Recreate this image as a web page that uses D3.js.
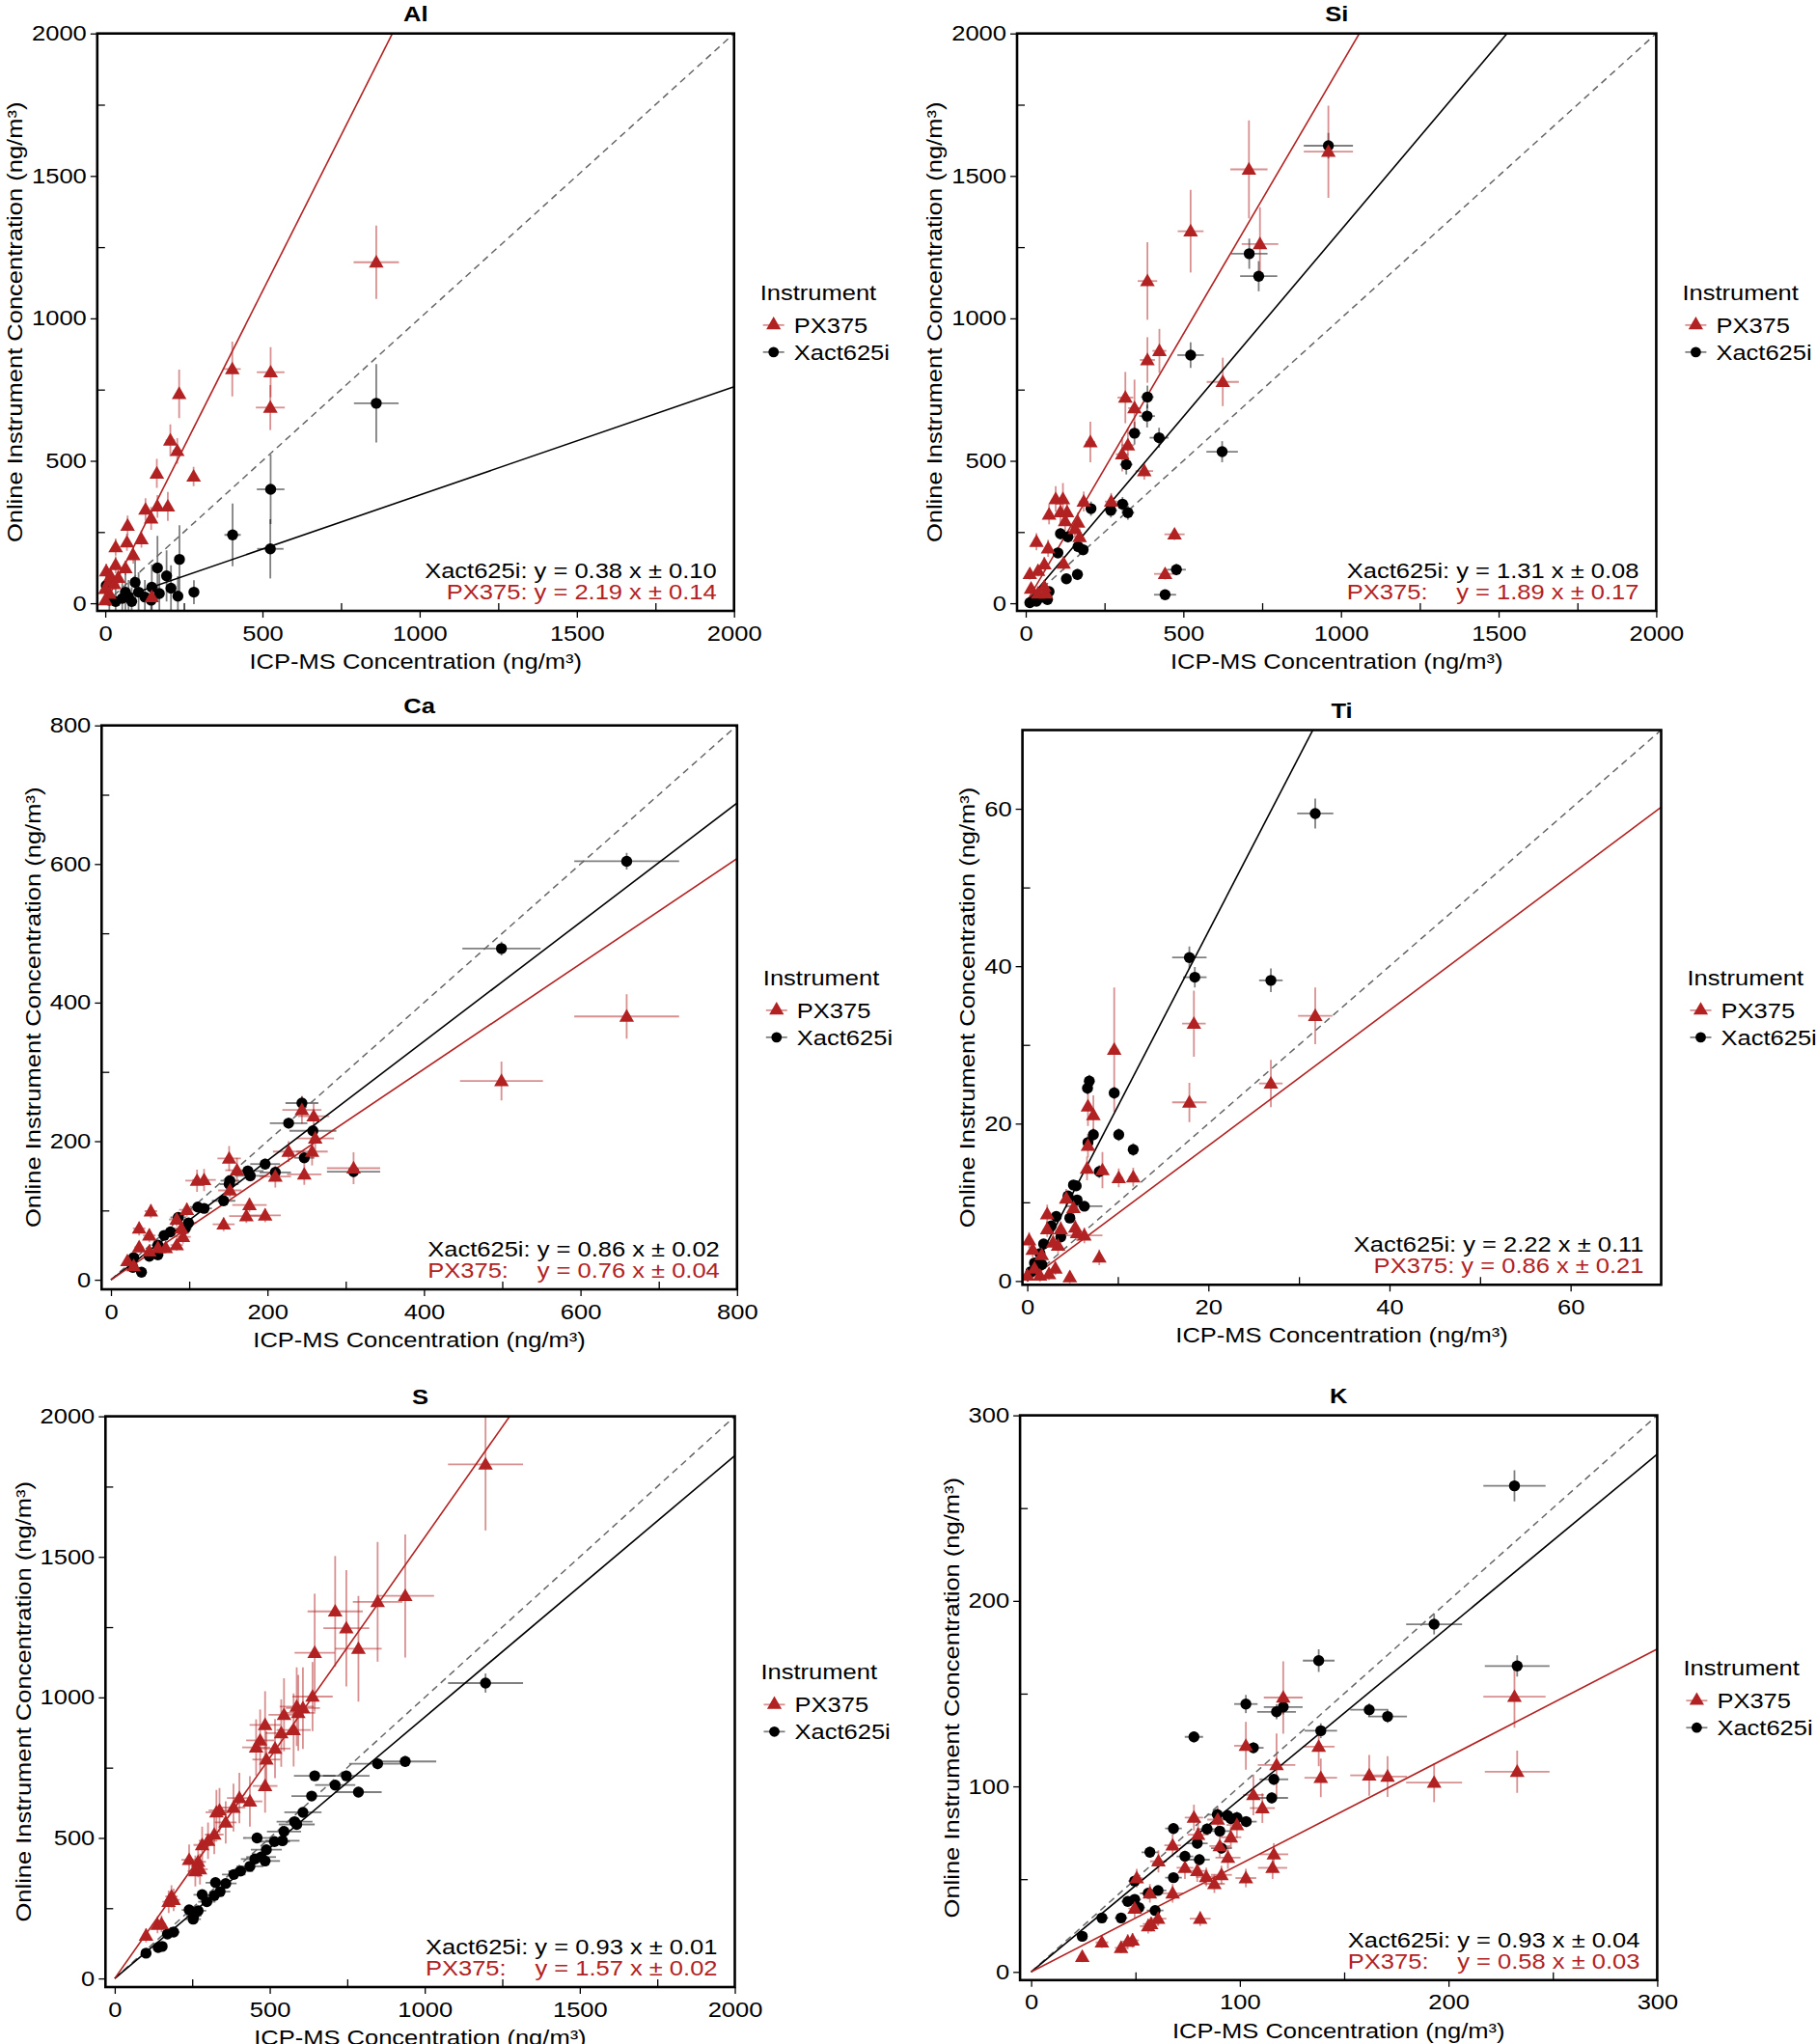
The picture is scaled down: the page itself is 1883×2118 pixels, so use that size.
<!DOCTYPE html>
<html>
<head>
<meta charset="utf-8">
<script src="https://cdn.jsdelivr.net/npm/d3@7"></script>
<style>
  body { margin: 0; background: #fff; }
  svg { display: block; font-family: "Liberation Sans", Arial, sans-serif; }
</style>
</head>
<body>
<svg id="chart" width="1883" height="2118"></svg>
<script>
'use strict';
// points as [ICP-MS, instrument, x error, y error]

const alPX = [[404,822,27,96],[526,811,44,88],[525,687,46,79],[235,735,12,85],[207,572,15,56],[229,535,15,45],
  [164,456,10,51],[281,445,10,34],[128,329,10,40],[166,340,10,40],[199,340,10,51],[146,298,10,40],[71,273,8,35],
  [115,225,8,30],[33,197,6,30],[69,214,8,30],[89,169,8,30],[33,135,6,30],[3,113,5,25],[64,124,6,25],[13,79,5,20],
  [0,51,4,20],[13,34,4,15],[148,22,8,20],[0,11,4,15],[28,68,5,20],[17,96,5,25],[41,90,6,25],[862,1197,72,129]];
const alXact = [[862,702,71,138],[526,400,44,122],[525,191,42,104],[405,240,26,110],[236,154,12,120],[166,124,12,113],
  [195,96,12,90],[209,53,12,80],[282,39,12,42],[231,25,10,70],[172,34,10,70],[146,11,10,60],[148,56,10,80],[95,73,8,80],
  [106,39,8,70],[74,22,8,60],[84,6,8,50],[54,17,6,60],[33,6,6,50],[3,62,5,60],[13,11,5,40],[126,22,8,60],[64,39,6,70]];

const siPX = [[523,1306,41,145],[743,1261,58,129],[708,1523,59,172],[960,1585,78,162],[386,1131,31,136],[424,886,22,77],
  [386,854,24,80],[625,777,51,85],[316,722,25,90],[345,685,20,100],[205,566,15,71],[324,555,20,60],[306,523,20,60],
  [376,464,28,30],[271,357,20,30],[184,357,15,35],[118,366,10,56],[95,366,10,45],[74,312,10,35],[110,320,10,40],
  [131,320,10,40],[125,289,10,35],[166,284,12,35],[156,261,12,30],[171,233,12,30],[34,216,8,30],[71,193,8,30],
  [472,242,32,20],[442,103,35,20],[59,137,8,25],[120,140,10,25],[13,103,6,20],[39,114,6,20],[17,52,5,15],
  [59,58,6,15],[39,35,6,15],[64,35,6,15]];
const siXact = [[960,1606,78,45],[709,1227,58,53],[739,1148,59,53],[523,871,42,45],[386,724,20,40],[385,657,25,40],
  [345,597,20,40],[423,581,30,35],[623,532,50,37],[319,487,20,35],[207,332,15,25],[270,326,20,25],[307,348,20,25],
  [324,318,20,25],[110,244,10,20],[134,233,10,20],[102,177,10,20],[182,188,12,20],[166,199,12,20],[164,101,12,20],
  [129,86,10,15],[478,118,30,20],[442,30,35,10],[74,41,8,15],[54,21,8,10],[34,7,6,10],[13,2,6,10],[69,13,8,10]];

const caPX = [[244,245,25,20],[259,236,20,18],[261,204,24,18],[257,185,20,20],[227,185,20,15],[247,152,22,15],
  [210,149,20,16],[310,161,34,23],[151,175,15,18],[161,158,15,18],[110,143,15,16],[119,144,15,16],[177,108,22,10],
  [173,92,22,10],[197,93,20,10],[144,80,14,10],[152,129,15,10],[51,99,8,10],[97,101,10,10],[84,87,10,10],
  [36,74,8,10],[49,64,8,10],[90,74,10,10],[92,62,10,10],[36,47,6,8],[70,46,8,8],[84,50,8,8],[21,27,5,6],
  [49,41,6,8],[29,20,5,6],[60,46,8,8],[499,287,53,28],[659,380,67,32]];
const caXact = [[244,255,21,10],[227,226,24,8],[258,215,30,8],[247,176,13,8],[197,167,19,8],[175,157,20,8],
  [178,150,20,8],[210,155,20,8],[152,143,12,8],[151,138,12,8],[144,114,15,6],[111,105,10,6],[119,103,10,6],
  [99,82,10,6],[86,90,10,6],[95,74,8,6],[68,64,8,5],[60,50,8,5],[60,36,6,5],[49,34,6,5],[29,32,6,5],[39,11,5,4],
  [28,18,5,4],[310,156,34,8],[76,69,8,5],[499,478,50,10],[659,604,67,12]];

const tiPX = [[31.8,33.7,1.9,3.6],[18.4,32.7,1.3,4.2],[9.6,29.4,0.5,7.9],[17.9,22.7,1.9,2.5],[26.9,25.1,1.3,3.0],
  [6.7,22.2,0.4,2.5],[7.3,21.1,0.4,2.5],[6.7,17.2,0.4,1.5],[6.6,14.3,0.4,1.5],[8.3,14.1,0.5,2.3],[10.1,13.1,0.5,1.2],
  [11.7,13.2,0.5,1.2],[4.3,10.5,0.4,1.2],[5.1,9.3,0.4,1.2],[2.2,8.5,0.3,1.2],[3.7,6.6,0.3,1],[5.3,6.8,0.3,1],
  [5.5,6.1,0.3,1],[6.3,5.8,2,1],[2.2,6.6,0.3,1],[2.85,4.9,0.3,1],[3.4,4.5,0.3,1],[0.2,5.2,0.2,1],[0.6,4,0.2,1],
  [1.6,3.3,0.2,1],[7.95,3,0.3,1],[3.1,1.6,0.3,0.8],[4.7,0.5,0.3,0.8],[2.4,0.9,0.3,0.8],[0.8,1.6,0.2,0.8],
  [0,0.7,0.2,0.8],[1.4,0.7,0.2,0.8]];
const tiXact = [[31.8,59.4,2,1.9],[17.9,41.1,1.9,1.4],[18.5,38.6,1.3,1.3],[26.9,38.2,1.3,1.5],[6.85,25.4,0.4,0.8],
  [6.65,24.5,0.4,0.8],[9.6,23.9,0.4,0.8],[7.3,18.6,0.4,0.8],[10.1,18.6,0.4,0.8],[11.7,16.7,0.4,0.8],[6.7,17.6,0.4,0.8],
  [7.95,13.9,0.5,0.8],[5.1,12.2,0.4,0.6],[5.4,12.1,0.4,0.6],[4.5,10.8,0.4,0.6],[5.5,10.3,0.4,0.6],[6.3,9.5,2,0.6],
  [3.2,8.2,0.3,0.6],[4.7,8,0.3,0.6],[2.65,7,0.3,0.5],[3.7,5.6,0.3,0.5],[1.8,4.7,0.3,0.5],[1.4,3.5,0.3,0.5],
  [0.8,2.3,0.2,0.5],[0.4,1.2,0.2,0.5],[1.6,2.1,0.2,0.5]];

const sPX = [[1196,1829,121,235],[937,1361,93,219],[848,1340,80,213],[711,1306,89,197],[747,1246,74,207],
  [786,1173,75,188],[645,1159,65,210],[638,1003,65,123],[587,967,55,140],[607,962,55,145],[592,945,55,135],
  [546,938,50,130],[485,902,50,120],[577,884,55,130],[537,873,50,120],[469,847,45,110],[456,822,45,100],
  [517,818,50,105],[489,779,45,100],[485,685,40,95],[436,630,40,90],[402,642,40,90],[383,608,38,85],[338,598,35,80],
  [328,591,35,80],[358,555,35,75],[321,512,30,70],[301,490,30,65],[282,475,28,65],[240,422,25,55],[269,415,25,55],
  [260,382,25,55],[275,389,25,55],[183,292,20,40],[174,273,20,40],[151,194,15,30],[138,191,15,30],[101,153,12,25],
  [190,280,20,40]];
const sXact = [[1196,1051,121,34],[937,772,100,20],[848,764,92,20],[747,721,75,18],[645,721,67,18],[711,688,65,18],
  [786,663,75,18],[635,649,65,17],[607,591,60,15],[587,548,58,15],[580,558,58,15],[546,523,55,14],[541,490,55,14],
  [515,487,50,14],[459,500,45,13],[489,458,50,13],[485,418,48,12],[472,432,48,12],[452,425,45,12],[436,399,43,12],
  [406,382,40,11],[384,370,38,11],[358,338,35,10],[325,341,32,10],[340,309,33,10],[321,295,30,9],[282,298,28,9],
  [297,273,28,9],[269,241,26,8],[240,244,24,8],[253,211,25,8],[255,223,25,8],[190,165,19,6],[170,158,17,6],
  [153,114,15,5],[140,110,14,5],[101,90,10,5]];

const kPX = [[231.6,148.3,14.9,16.6],[232.9,107.9,15.5,11.4],[193.1,102,13.4,10.5],[162,106,9.1,11],[170.8,105.3,9.3,11],
  [138.8,104.6,7.8,10.4],[137.8,121.4,7.6,10.5],[120.8,147.9,9.3,19.5],[102.9,121.9,5.6,12.9],[117.6,111.5,9,17],
  [106.5,95.4,5,11],[110.8,88.3,6,8],[78,83.2,4.4,7],[89.4,82.1,5,7],[98.6,79.2,5,7],[80,74,5,6],[95.7,72.6,5,6],
  [67.8,68.2,4,6],[90.4,67.8,5,6],[116.3,63.4,6.9,6],[94.3,61.6,6,6],[61,59.6,4,6],[73.7,56.1,4,6],[79.6,54.5,5,6],
  [115.7,56.1,7,6],[83.9,51.2,5,5],[91.2,52.3,5,5],[102.9,50.6,5,5],[50.6,50.6,3,5],[87.8,47.5,5,5],[67.8,42.4,5,5],
  [56.9,42.4,4,5],[49.6,34.2,3,5],[60.8,28.7,4,4],[56.1,24.7,4,4],[57.5,25.8,4,4],[81,28.7,5,4],[48.6,17,3,4],
  [46.3,16.3,3,4],[33.9,15.9,3,3],[43.1,13,3,3],[24.5,8.2,2,3]];
const kXact = [[231.6,262,14.9,8.4],[193.1,187.4,13.4,5.5],[232.9,164.9,15.5,5.7],[137.8,167.8,7.6,6.1],
  [102.9,144.4,5.6,4.9],[117.6,140.2,9.3,4],[120.8,142.8,9.3,4],[162,141.3,9.1,3.5],[170.8,137.7,9.3,3.5],
  [138.8,130,7.8,4],[78,126.7,4.4,3],[106.5,120.8,4.9,3],[116.3,103.8,6.9,3],[115.3,93.8,7.8,3],[89.2,84.8,5,3],
  [94.1,84.3,5,3],[95.7,82.6,5,3],[98.6,83.2,5,3],[103.1,81,5,3],[68.2,77.3,4,3],[84.3,77,5,3],[90.4,75.9,5,3],
  [79.6,69.3,5,3],[91.2,66.7,5,3],[56.9,64.5,4,3],[73.7,62.3,4,3],[80.6,60.5,5,3],[68.2,50.8,4,2.5],[49.6,49,3,2.5],
  [60.8,43.9,4,2.5],[56.1,42.4,4,2.5],[46.3,38,3,2.5],[49.6,39.1,3,2.5],[51.6,34.7,3,2.5],[59.4,33.1,4,2.5],
  [33.9,29.1,3,2],[43.1,29.1,3,2],[24.5,19.2,2,2]];

const elements = ['Al', 'Si', 'Ca', 'Ti', 'S', 'K'];
const axisMax = [2000, 2000, 800, 70, 2000, 300];
const majorTicks = [[0,500,1000,1500,2000],[0,500,1000,1500,2000],[0,200,400,600,800],[0,20,40,60],
  [0,500,1000,1500,2000],[0,100,200,300]];
const minorTicks = [[250,750,1250,1750],[250,750,1250,1750],[100,300,500,700],[10,30,50],
  [250,750,1250,1750],[50,150,250]];
const xactSlope = [0.38, 1.31, 0.86, 2.22, 0.93, 0.93];
const xactSE = ['0.10', '0.08', '0.02', '0.11', '0.01', '0.04'];
const pxSlope = [2.19, 1.89, 0.76, 0.86, 1.57, 0.58];
const pxSE = ['0.14', '0.17', '0.04', '0.21', '0.02', '0.03'];
const alignedEq = [false, true, true, false, true, true];
const xactData = [alXact, siXact, caXact, tiXact, sXact, kXact];
const pxData = [alPX, siPX, caPX, tiPX, sPX, kPX];

// panel frames in pixels: left, top, right, bottom, x pad, y pad
const frames = [
  [100.8, 34.7, 760.7, 633, 8.3, 7.9],
  [1054, 34.7, 1716.4, 633, 9, 7.9],
  [105.3, 751.7, 763.8, 1336, 9.7, 9.9],
  [1059.6, 756.5, 1721.5, 1331.3, 5, 3.9],
  [109.3, 1467.6, 761.5, 2059, 9.6, 8.9],
  [1057.1, 1466.6, 1717.4, 2051.8, 11.5, 8.5]
];

const RED = '#b22222';
const RED_ERR = 'rgba(178,34,34,0.5)';
const GREY_ERR = 'rgba(0,0,0,0.5)';
const FS = 22;     // font size
const SX = 1.16;   // the figure's lettering is wider than Liberation Sans

const svg = d3.select('#chart');
const triangle = d3.symbol().type(d3.symbolTriangle).size(100);

// text in a wrapper group so it can be widened
function label(parent, x, y, s, anchor, fill, rot) {
  const g = parent.append('g')
    .attr('transform', `translate(${x},${y})${rot ? ' rotate(-90)' : ''} scale(${SX},1)`);
  return g.append('text').attr('font-size', FS).attr('text-anchor', anchor || 'start')
    .attr('fill', fill || '#000').text(s);
}

function errorBars(g, pts, x, y, col) {
  const e = g.append('g').attr('stroke', col).attr('stroke-width', 1.8);
  e.selectAll('.h').data(pts).enter().append('line')
    .attr('x1', d => x(d[0] - d[2])).attr('x2', d => x(d[0] + d[2]))
    .attr('y1', d => y(d[1])).attr('y2', d => y(d[1]));
  e.selectAll('.v').data(pts).enter().append('line')
    .attr('x1', d => x(d[0])).attr('x2', d => x(d[0]))
    .attr('y1', d => y(d[1] - d[3])).attr('y2', d => y(d[1] + d[3]));
}

function drawPanel(i) {
  const [l, t, r, b, padX, padY] = frames[i];
  const max = axisMax[i];
  const x = d3.scaleLinear().domain([0, max]).range([l + padX, r]);
  const y = d3.scaleLinear().domain([0, max]).range([b - padY, t]);
  const g = svg.append('g');

  g.append('clipPath').attr('id', 'clip' + i)
    .append('rect').attr('x', l).attr('y', t).attr('width', r - l).attr('height', b - t);
  const plot = g.append('g').attr('clip-path', `url(#clip${i})`);

  errorBars(plot, xactData[i], x, y, GREY_ERR);
  errorBars(plot, pxData[i], x, y, RED_ERR);

  // 1:1 line and fits through origin
  plot.append('line')
    .attr('x1', x(0)).attr('y1', y(0)).attr('x2', x(max)).attr('y2', y(max))
    .attr('stroke', '#666').attr('stroke-width', 1.5).attr('stroke-dasharray', '7,5');
  [[xactSlope[i], '#000'], [pxSlope[i], RED]].forEach(([s, c]) => {
    plot.append('line')
      .attr('x1', x(0)).attr('y1', y(0)).attr('x2', x(max)).attr('y2', y(max * s))
      .attr('stroke', c).attr('stroke-width', 1.6);
  });

  plot.append('g').selectAll('circle').data(xactData[i]).enter().append('circle')
    .attr('cx', d => x(d[0])).attr('cy', d => y(d[1])).attr('r', 5.7).attr('fill', '#000');
  plot.append('g').selectAll('path').data(pxData[i]).enter().append('path')
    .attr('d', triangle)
    .attr('transform', d => `translate(${x(d[0])},${y(d[1]) + 1})`)
    .attr('fill', RED);

  // axes: majors outward with labels, minors inward
  const fmt = d3.format('d');
  g.append('g').attr('transform', `translate(0,${b})`)
    .call(d3.axisBottom(x).tickValues(majorTicks[i]).tickSize(7).tickPadding(8).tickFormat(fmt));
  g.append('g').attr('transform', `translate(0,${b})`)
    .call(d3.axisBottom(x).tickValues(minorTicks[i]).tickSize(-8).tickFormat(''));
  const ya = g.append('g').attr('transform', `translate(${l},0)`)
    .call(d3.axisLeft(y).tickValues(majorTicks[i]).tickSize(7).tickPadding(4).tickFormat(fmt));
  g.append('g').attr('transform', `translate(${l},0)`)
    .call(d3.axisLeft(y).tickValues(minorTicks[i]).tickSize(-8).tickFormat(''));
  g.selectAll('.domain').remove();
  g.selectAll('.tick line').attr('stroke', '#000').attr('stroke-width', 1.3);
  g.selectAll('.tick text').attr('font-size', FS).attr('fill', '#000')
    .attr('font-family', '"Liberation Sans", Arial, sans-serif')
    .attr('transform', `scale(${SX},1)`);
  ya.selectAll('.tick text').attr('x', -11 / SX);

  g.append('rect').attr('x', l).attr('y', t).attr('width', r - l).attr('height', b - t)
    .attr('fill', 'none').attr('stroke', '#000').attr('stroke-width', 2.6);

  // titles
  label(g, (l + r) / 2, t - 13, elements[i], 'middle').attr('font-weight', 'bold');
  label(g, (l + r) / 2, b + 60, 'ICP-MS Concentration (ng/m³)', 'middle');
  let labW = 0;
  ya.selectAll('text').each(function () { labW = Math.max(labW, this.getBBox().width * SX); });
  label(g, l - 11 - labW - 10, (t + b) / 2, 'Online Instrument Concentration (ng/m³)', 'middle', '#000', true);

  // fit equations
  const ex = r - 18;
  const l1 = label(g, ex, b - 34, `Xact625i: y = ${xactSlope[i].toFixed(2)} x ± ${xactSE[i]}`, 'end');
  const rest = `y = ${pxSlope[i].toFixed(2)} x ± ${pxSE[i]}`;
  if (alignedEq[i]) {
    const w1 = l1.node().getBBox().width * SX;
    label(g, ex - w1, b - 12, 'PX375:', 'start', RED);
    label(g, ex, b - 12, rest, 'end', RED);
  } else {
    label(g, ex, b - 12, 'PX375: ' + rest, 'end', RED);
  }

  // legend
  const cy = (t + b) / 2;
  const lg = g.append('g');
  label(lg, r + 27, cy - 23, 'Instrument');
  const keys = [['PX375', RED_ERR, 'tri', cy + 3], ['Xact625i', GREY_ERR, 'dot', cy + 31]];
  keys.forEach(([name, col, shape, ky]) => {
    lg.append('line').attr('x1', r + 30).attr('x2', r + 52).attr('y1', ky).attr('y2', ky)
      .attr('stroke', col).attr('stroke-width', 1.8);
    if (shape === 'tri') {
      lg.append('path').attr('d', triangle).attr('transform', `translate(${r + 41},${ky})`).attr('fill', RED);
    } else {
      lg.append('circle').attr('cx', r + 41).attr('cy', ky).attr('r', 5.4).attr('fill', '#000');
    }
    label(lg, r + 62, ky + 8, name);
  });
}

elements.forEach((e, i) => drawPanel(i));
</script>
</body>
</html>
